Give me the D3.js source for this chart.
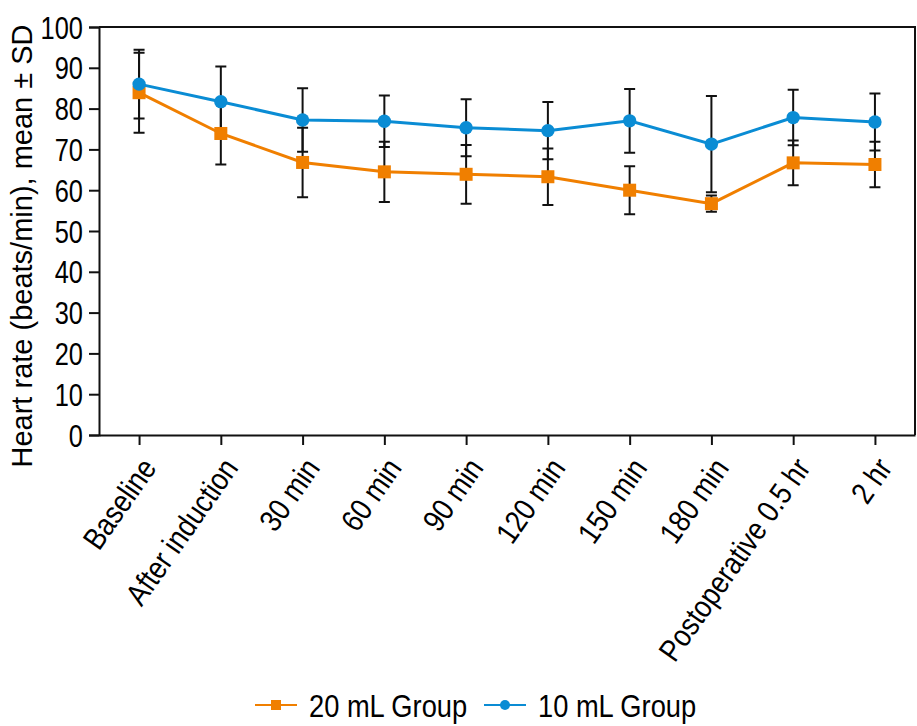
<!DOCTYPE html>
<html>
<head>
<meta charset="utf-8">
<script src="https://cdn.jsdelivr.net/npm/d3@7"></script>
<style>
  body { margin: 0; background: #fff; }
  text { font-family: "Liberation Sans", Arial, sans-serif; fill: #000; }
</style>
</head>
<body>
<div id="chart"></div>
<script>
const categories = ["Baseline", "After induction", "30 min", "60 min", "90 min", "120 min",
    "150 min", "180 min", "Postoperative 0.5 hr", "2 hr"];
const yTicks = [0, 10, 20, 30, 40, 50, 60, 70, 80, 90, 100];

// 20 mL group (orange squares)
const mean20 = [83.9, 73.9, 66.8, 64.5, 63.9, 63.3, 60.0, 56.7, 66.7, 66.3];
const sd20 = [9.8, 7.6, 8.5, 7.4, 7.2, 6.9, 5.9, 2.0, 5.5, 5.6];
// 10 mL group (blue circles)
const mean10 = [86.0, 81.7, 77.2, 76.9, 75.3, 74.6, 77.0, 71.3, 77.8, 76.7];
const sd10 = [8.4, 8.6, 7.8, 6.3, 7.0, 7.0, 7.8, 11.8, 6.8, 7.0];

const series = [
    {name: "20 mL Group", mean: mean20, sd: sd20, color: "#f07f00", shape: "square"},
    {name: "10 mL Group", mean: mean10, sd: sd10, color: "#0a8cd4", shape: "circle"}
];

const width = 917, height = 726;
const plotL = 99, plotR = 915, plotT = 27, plotB = 435;

const svg = d3.select("#chart").append("svg")
    .attr("width", width)
    .attr("height", height);

const x = d3.scalePoint().domain(categories).range([plotL, plotR]).padding(0.49);
const y = d3.scaleLinear().domain([0, 100]).range([plotB, plotT]);

// frame (top and right edges)
svg.append("path")
    .attr("d", `M${plotL},${plotT}H${plotR}V${plotB}`)
    .attr("fill", "none")
    .attr("stroke", "#111")
    .attr("stroke-width", 2);

// y axis - the original uses a condensed face, so squeeze the text a bit
const yAxis = svg.append("g")
    .attr("transform", `translate(${plotL},0)`)
    .call(d3.axisLeft(y).tickValues(yTicks).tickSize(10).tickPadding(6));
yAxis.selectAll("path, line").attr("stroke", "#111").attr("stroke-width", 2);
yAxis.selectAll("text")
    .style("font-size", "31px")
    .attr("x", 0)
    .attr("dy", "0.36em")
    .attr("transform", "translate(-16,0) scale(0.82,1)");

// x axis
const xAxis = svg.append("g")
    .attr("transform", `translate(0,${plotB})`)
    .call(d3.axisBottom(x).tickSize(10).tickSizeOuter(0));
xAxis.selectAll("path, line").attr("stroke", "#111").attr("stroke-width", 2);
xAxis.selectAll("text")
    .style("font-size", "31px")
    .attr("text-anchor", "end")
    .attr("dy", null)
    .attr("y", 0)
    .attr("transform", "translate(18,33) rotate(-55) scale(0.86,1)");

// y title
svg.append("text")
    .attr("transform", `translate(32,${(plotT + plotB) / 2 + 15}) rotate(-90)`)
    .attr("text-anchor", "middle")
    .style("font-size", "29px")
    .text("Heart rate (beats/min), mean \u00b1 SD");

// error bars
const capW = 5.5;
series.forEach(s => {
    const g = svg.append("g");
    categories.forEach((c, i) => {
        const cx = x(c);
        const hi = y(s.mean[i] + s.sd[i]), lo = y(s.mean[i] - s.sd[i]);
        g.append("path")
            .attr("d", `M${cx},${hi}V${lo}M${cx - capW},${hi}H${cx + capW}M${cx - capW},${lo}H${cx + capW}`)
            .attr("fill", "none")
            .attr("stroke", "#111")
            .attr("stroke-width", 2);
    });
});

// lines and markers
const line = d3.line().x((d, i) => x(categories[i])).y(d => y(d));
series.forEach(s => {
    svg.append("path")
        .datum(s.mean)
        .attr("d", line)
        .attr("fill", "none")
        .attr("stroke", s.color)
        .attr("stroke-width", 3);
    const m = svg.append("g");
    if (s.shape === "square") {
        m.selectAll("rect").data(s.mean).join("rect")
            .attr("x", (d, i) => x(categories[i]) - 6.5)
            .attr("y", d => y(d) - 6.5)
            .attr("width", 13).attr("height", 13)
            .attr("fill", s.color);
    } else {
        m.selectAll("circle").data(s.mean).join("circle")
            .attr("cx", (d, i) => x(categories[i]))
            .attr("cy", d => y(d))
            .attr("r", 6.7)
            .attr("fill", s.color);
    }
});

// legend
const legend = svg.append("g").attr("transform", "translate(255,705)");
const legX = [0, 229];
series.forEach((s, i) => {
    const g = legend.append("g").attr("transform", `translate(${legX[i]},0)`);
    g.append("line").attr("x1", 0).attr("x2", 42).attr("y1", 0).attr("y2", 0)
        .attr("stroke", s.color).attr("stroke-width", 2);
    if (s.shape === "square") {
        g.append("rect").attr("x", 16).attr("y", -5).attr("width", 10).attr("height", 10).attr("fill", s.color);
    } else {
        g.append("circle").attr("cx", 21).attr("cy", 0).attr("r", 5).attr("fill", s.color);
    }
    g.append("text")
        .attr("transform", "translate(54,12) scale(0.88,1)")
        .style("font-size", "31px")
        .text(s.name);
});
</script>
</body>
</html>
